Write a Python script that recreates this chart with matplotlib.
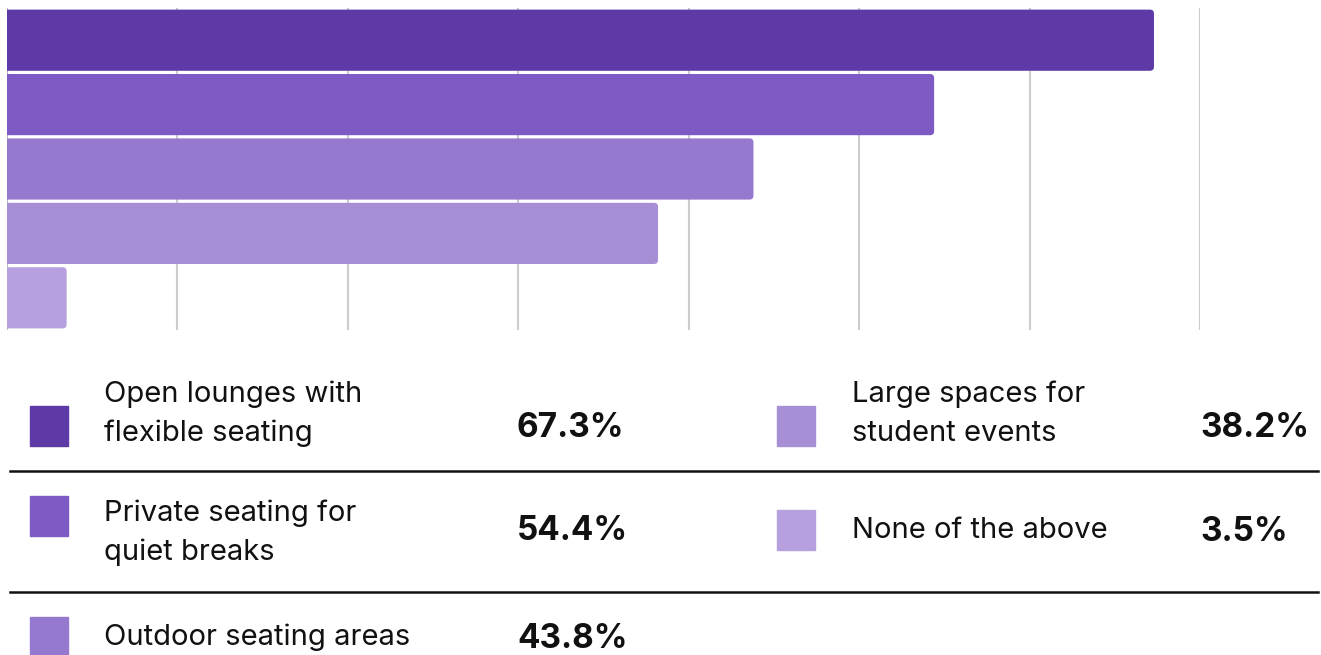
import matplotlib.pyplot as plt
from matplotlib.patches import Rectangle, FancyBboxPatch

categories = ["Open lounges with\nflexible seating",
              "Private seating for\nquiet breaks",
              "Outdoor seating areas",
              "Large spaces for\nstudent events",
              "None of the above"]
values = [67.3, 54.4, 43.8, 38.2, 3.5]
colors = ["#5E3AA6", "#7E5BC4", "#9579CE", "#A78FD6", "#B6A0DD"]
grid_ticks = [10, 20, 30, 40, 50, 60, 70]

W, H = 1321, 655
fig = plt.figure(figsize=(W / 100, H / 100), dpi=100)

def fx(x):
    return x / W

def fy(y):
    return 1 - y / H

# bar area
ax = fig.add_axes([fx(7), fy(330), fx(1200) - fx(7), (330 - 8) / H])
ypos = list(range(len(values)))
bars = ax.barh(ypos, values, height=0.95, color=colors, zorder=3)
ax.set_xlim(0, 70)
ax.set_ylim(len(values) - 0.5, -0.5)

# rounded right ends: replace each bar with a rounded box (square left edge hidden under axes edge)
px_x = 70 / (1200 - 7)
px_y = 5 / (330 - 8)
for b in bars:
    x0, y0, w, h = b.get_x(), b.get_y(), b.get_width(), b.get_height()
    r = 4 * px_x
    box = FancyBboxPatch((x0 - 1, y0), w + 1, h,
                         boxstyle=f"round,pad=0,rounding_size={r}",
                         mutation_aspect=px_y / px_x,
                         fc=b.get_facecolor(), ec="none", zorder=3,
                         clip_on=True)
    ax.add_patch(box)
    b.remove()

ax.set_xticks(grid_ticks)
ax.set_yticks([])
ax.tick_params(axis="x", length=0, labelbottom=False)
ax.grid(axis="x", color="#cccccc", lw=1.5, zorder=0)
for s in ax.spines.values():
    s.set_visible(False)
ax.axvline(0, color="#bbbbbb", lw=1.5, zorder=1)

# legend table below
label_font = "Inter"
rows_left = [(0, 426, 517), (1, 516, 517), (2, 637, 517)]
rows_right = [(3, 426, 1200), (4, 530, 1200)]

for i, yc, px in rows_left + rows_right:
    sx = 30 if px < 1000 else 777
    tx = 104 if px < 1000 else 852
    fig.patches.append(Rectangle((fx(sx), fy(yc + 20)), 38 / W, 40 / H,
                                 transform=fig.transFigure, color=colors[i]))
    ty = yc
    if i == 0 or i == 3:
        ty = yc - 12
    elif i == 1:
        ty = yc + 17
    fig.text(fx(tx), fy(ty), categories[i], fontsize=21, family=label_font,
             va="center", ha="left", linespacing=1.55, color="#111111")
    fig.text(fx(px), fy(yc + 2 if i != 1 else yc + 15), f"{values[i]}%",
             fontsize=24, family=label_font, weight="bold",
             va="center", ha="left", color="#111111")

for yl in [471, 592]:
    fig.add_artist(plt.Line2D([fx(10), fx(1318)], [fy(yl), fy(yl)],
                              color="#111111", lw=1.8, transform=fig.transFigure))

fig.savefig("out.png", dpi=100, facecolor="white")
